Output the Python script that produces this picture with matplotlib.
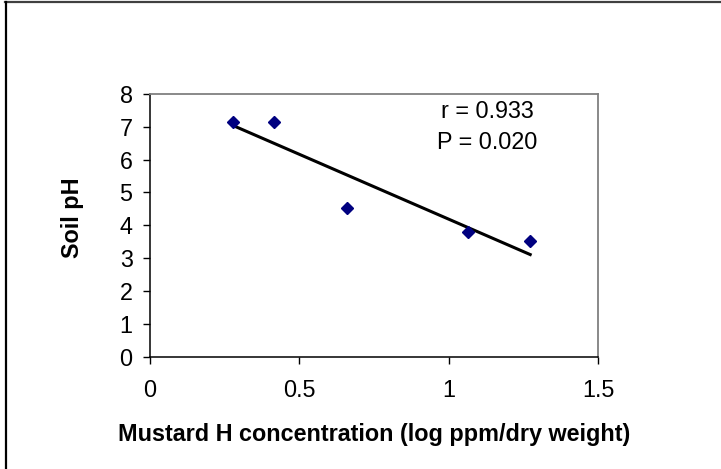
import numpy as np
import matplotlib.pyplot as plt
from matplotlib.lines import Line2D

plt.rcParams['font.family'] = ['Liberation Sans', 'DejaVu Sans']

# mustard H concentration (log ppm/dry weight) vs soil pH
conc = [0.279, 0.415, 0.658, 1.064, 1.273]
ph = [7.14, 7.14, 4.52, 3.81, 3.51]
stats_text = ['r = 0.933', 'P = 0.020']

FS = 16.8

fig = plt.figure(figsize=(7.21, 4.69), dpi=100)
ax = fig.add_axes([0.208, 0.2395, 0.6214, 0.5601])

# linear trend line over the data range
slope, icept = np.polyfit(conc, ph, 1)
xl = np.array([min(conc), max(conc)])
ax.plot(xl, slope * xl + icept, color='black', lw=2.2, zorder=2)
ax.plot(conc, ph, 'D', color='#000080', ms=6.3, zorder=3)

ax.set_xlim(0, 1.5)
ax.set_ylim(0, 8)
ax.set_xticks([0, 0.5, 1, 1.5])
ax.set_xticklabels(['0', '0.5', '1', '1.5'])
ax.set_yticks(range(0, 9))
ax.tick_params(direction='out', length=5, width=1, labelsize=FS)
ax.tick_params(axis='x', pad=11)
ax.tick_params(axis='y', pad=7.5)

for s in ['top', 'right']:
    ax.spines[s].set_color('#808080')
    ax.spines[s].set_linewidth(1.3)
for s in ['left', 'bottom']:
    ax.spines[s].set_linewidth(1.1)

ax.set_xlabel('Mustard H concentration (log ppm/dry weight)', fontsize=FS,
              fontweight='bold', labelpad=15)
ax.set_ylabel('Soil pH', fontsize=FS, fontweight='bold', labelpad=25.5)
ax.yaxis.label.set_y(0.528)

ax.text(0.752, 0.9075, stats_text[0], transform=ax.transAxes, fontsize=FS,
        ha='center', va='baseline')
ax.text(0.752, 0.7906, stats_text[1], transform=ax.transAxes, fontsize=FS,
        ha='center', va='baseline')

# outer frame (only top and left show)
fig.add_artist(Line2D([5 / 721, 1], [1 - 2.5 / 469, 1 - 2.5 / 469],
                      color='#404040', lw=1.6, transform=fig.transFigure))
fig.add_artist(Line2D([5.5 / 721, 5.5 / 721], [0, 1 - 2 / 469],
                      color='black', lw=1.6, transform=fig.transFigure))

fig.savefig('out.png', dpi=100)
